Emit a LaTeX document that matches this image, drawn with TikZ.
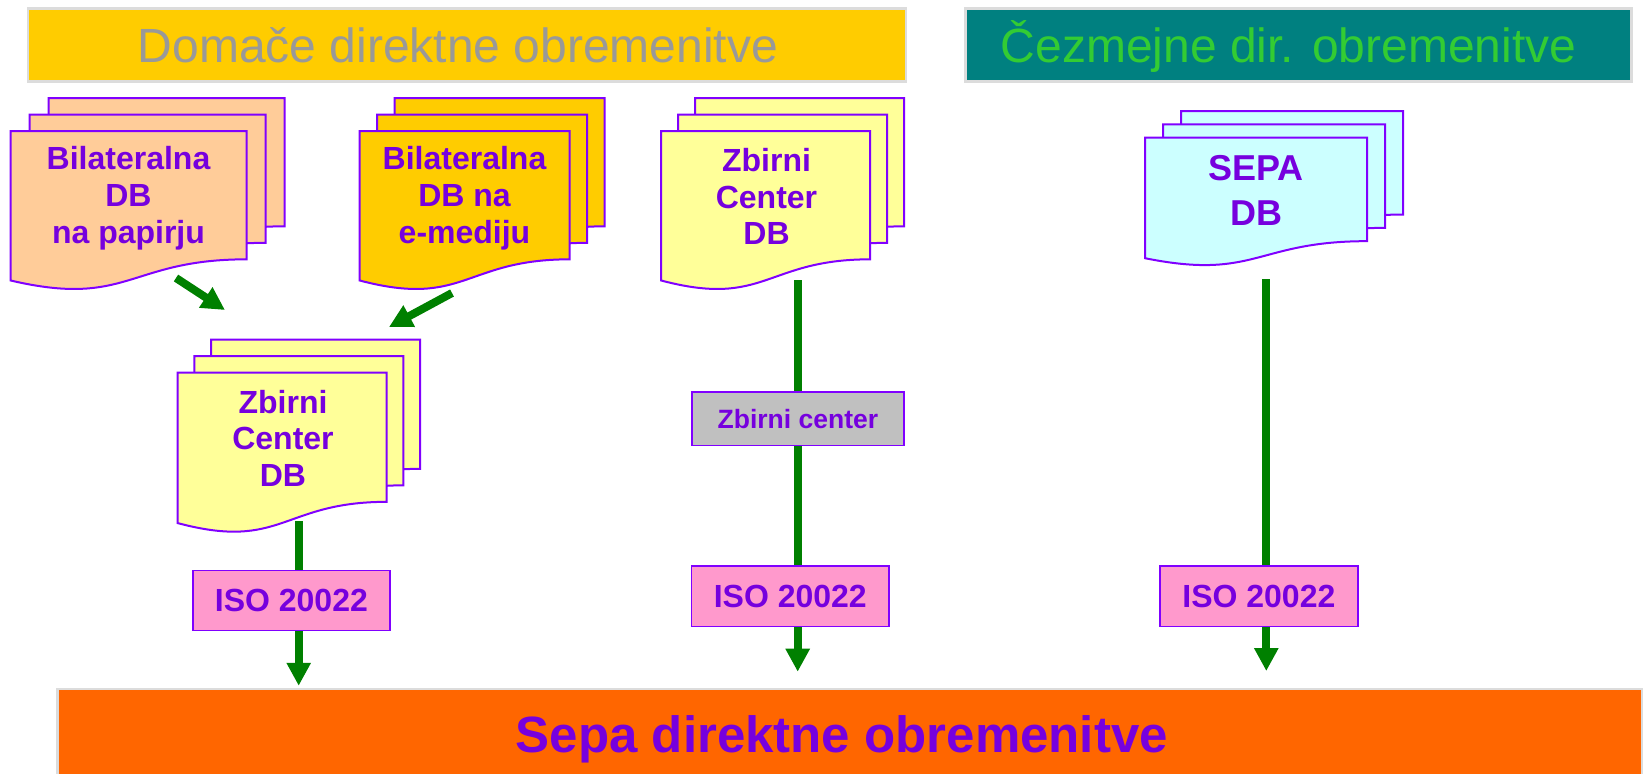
\documentclass[tikz,border=0pt]{standalone}
\usepackage{fontspec}
\setmainfont{Liberation Sans}
\usetikzlibrary{arrows.meta}
\definecolor{ptext}{RGB}{118,0,222}
\definecolor{pborder}{RGB}{128,0,255}
\definecolor{peach}{RGB}{255,204,153}
\definecolor{gold}{RGB}{255,204,0}
\definecolor{lyellow}{RGB}{255,255,153}
\definecolor{lcyan}{RGB}{204,255,255}
\definecolor{tealbg}{RGB}{0,128,128}
\definecolor{gtext}{RGB}{51,204,51}
\definecolor{graytext}{RGB}{153,153,153}
\definecolor{orng}{RGB}{255,102,0}
\definecolor{pinkbox}{RGB}{255,153,204}
\definecolor{dgreen}{RGB}{0,128,0}
\definecolor{bgray}{RGB}{220,220,220}
\definecolor{boxgray}{RGB}{192,192,192}
\pgfdeclarelayer{background}
\pgfsetlayers{background,main}
\newcommand\docpage[5]{%
  \filldraw[fill=#5, draw=pborder, line width=1pt, line join=miter]
    ({#1},{#2}) -- ({#1+#3},{#2}) -- ({#1+#3},{#2+0.802*#4})
    .. controls ({#1+0.5*#3},{#2+0.802*#4}) and ({#1+0.5*#3},{#2+1.1075*#4}) .. ({#1},{#2+0.934*#4}) -- cycle;}
\newcommand\docstack[7]{%
  \docpage{#1+2*#5}{#2-2*#6}{#3}{#4}{#7}
  \docpage{#1+#5}{#2-#6}{#3}{#4}{#7}
  \docpage{#1}{#2}{#3}{#4}{#7}}
\tikzset{
  doctext/.style={font=\bfseries\fontsize{16}{18.35}\selectfont, text=ptext, align=center, inner sep=0pt},
  banner/.style={draw=bgray, line width=1.25pt, inner sep=0pt, font=\fontsize{24}{28}\selectfont, text height=17.2pt, text depth=0pt},
  smallbox/.style={draw=pborder, line width=0.8pt, inner sep=0pt, text=ptext, font=\bfseries\fontsize{16}{19}\selectfont},
  arr/.style={draw=dgreen, line width=4pt, -{Triangle[width=11.5pt,length=11.5pt]}},
  shaft/.style={draw=dgreen, line width=4pt},
}
\begin{document}
\begin{tikzpicture}[x=0.5pt,y=-0.5pt]
\useasboundingbox (0,0) rectangle (1644,773);
% banners
\node[banner, fill=gold, text=graytext, minimum width=439pt, minimum height=36.5pt] (dom) at (467,45.2) {Domače direktne obremenitve\kern9pt};
\node[banner, fill=tealbg, text=gtext, minimum width=333pt, minimum height=36.5pt] (cez) at (1298.5,45.2) {Čezmejne dir. obremenitve\kern10pt};
\node[banner, fill=orng, text=ptext, font=\bfseries\fontsize{25.5}{30}\selectfont, minimum width=792.2pt, minimum height=45.5pt, text height=18.26pt, text depth=0pt] (sepa) at (849.85,734.5) {Sepa direktne obremenitve\kern8pt};
% document stacks
\docstack{10.5}{131}{236}{160}{19}{16.5}{peach}
\node[doctext] (s1) at (128.5,198.4) {Bilateralna\\DB\\na papirju};
\docstack{359.5}{131}{210}{160}{17.5}{16.5}{gold}
\node[doctext] (s2) at (464.5,198.4) {Bilateralna\\DB na\\e-mediju};
\docstack{661}{131}{209}{160}{17}{16.5}{lyellow}
\node[doctext] (s3) at (766.5,196.5) {Zbirni\\Center\\DB};
\docstack{1145}{137.7}{222}{129}{18}{13.3}{lcyan}
\node[doctext, font=\bfseries\fontsize{18}{22.5}\selectfont] (s4) at (1256,190.6) {SEPA\\DB};
\docstack{177.7}{372.7}{209}{161}{16.7}{16.5}{lyellow}
\node[doctext] (s5) at (283,438.2) {Zbirni\\Center\\DB};
% boxes
\node[smallbox, fill=pinkbox, minimum width=98.65pt, minimum height=30pt, text height=11.46pt, text depth=0pt] (iso1) at (291.4,600.3) {ISO 20022};
\node[smallbox, fill=pinkbox, minimum width=98.65pt, minimum height=30.35pt, text height=11.46pt, text depth=0pt] (iso2) at (790.3,596.3) {ISO 20022};
\node[smallbox, fill=pinkbox, minimum width=98.85pt, minimum height=30.35pt, text height=11.46pt, text depth=0pt] (iso3) at (1258.9,596.3) {ISO 20022};
\node[smallbox, fill=boxgray, font=\bfseries\fontsize{13.25}{16}\selectfont, minimum width=106.15pt, minimum height=26.85pt, text height=9.49pt, text depth=0pt] (zc) at (797.9,418.8) {Zbirni center};
% connectors
\coordinate (s1out) at (176,278);
\coordinate (s5in1) at (225,310);
\coordinate (s2out) at (452,293);
\coordinate (s5in2) at (389,327);
\coordinate (s5out) at (298.7,521);
\coordinate (s3out) at (797.7,280);
\coordinate (s4out) at (1266.3,279);
\coordinate (t2) at (797.7,671.7);
\coordinate (t3) at (1266.3,671);
\begin{pgfonlayer}{background}
\draw[arr] (s1out) -- (s5in1);
\draw[arr] (s2out) -- (s5in2);
\draw[shaft] (s5out) -- (s5out |- iso1.north);
\draw[arr, shorten >=1pt] (s5out |- iso1.south) -- (s5out |- sepa.north);
\draw[shaft] (s3out) -- (s3out |- zc.north);
\draw[shaft] (s3out |- zc.south) -- (s3out |- iso2.north);
\draw[arr] (s3out |- iso2.south) -- (t2);
\draw[shaft] (s4out) -- (s4out |- iso3.north);
\draw[arr] (s4out |- iso3.south) -- (t3);
\end{pgfonlayer}
\end{tikzpicture}
\end{document}
